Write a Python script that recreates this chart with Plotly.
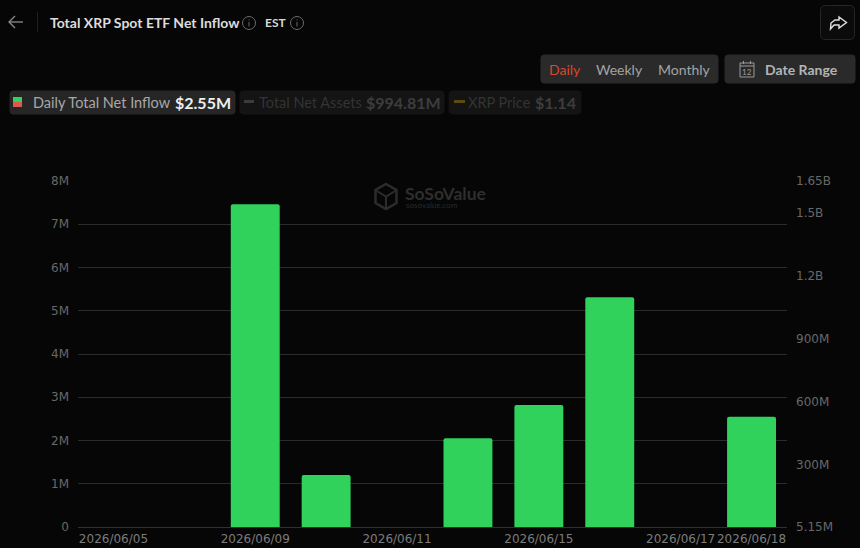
import plotly.graph_objects as go

W, H = 860, 548

# Chart data
dates = ["2026/06/05", "2026/06/08", "2026/06/09", "2026/06/10", "2026/06/11",
         "2026/06/12", "2026/06/15", "2026/06/16", "2026/06/17", "2026/06/18"]
net_inflow = [0, 0, 7.46e6, 1.2e6, 0, 2.05e6, 2.82e6, 5.31e6, 0, 2.55e6]
net_assets_latest = 994.81e6

date_ticks = ["2026/06/05", "2026/06/09", "2026/06/11", "2026/06/15", "2026/06/17", "2026/06/18"]
left_ticks = [0, 1e6, 2e6, 3e6, 4e6, 5e6, 6e6, 7e6, 8e6]
left_labels = ["0", "1M", "2M", "3M", "4M", "5M", "6M", "7M", "8M"]
right_ticks = [5.15e6, 3e8, 6e8, 9e8, 1.2e9, 1.5e9, 1.65e9]
right_labels = ["5.15M", "300M", "600M", "900M", "1.2B", "1.5B", "1.65B"]

BG = "#060606"
GREEN = "#30d25c"
UI = "Lato"
AXIS_FONT = "DejaVu Sans"


def px(x):
    return x / W


def py(y):
    return 1 - y / H


def path(points, close=False):
    d = "M" + " L".join(f"{px(x):.5f},{py(y):.5f}" for x, y in points)
    return d + (" Z" if close else "")


shapes, notes = [], []


def box(x0, y0, x1, y1, fill, line=None, radius=3):
    r, rx, ry = radius, radius / W, radius / H
    d = (f"M{px(x0)+rx:.5f},{py(y0):.5f} L{px(x1)-rx:.5f},{py(y0):.5f} "
         f"Q{px(x1):.5f},{py(y0):.5f} {px(x1):.5f},{py(y0)-ry:.5f} "
         f"L{px(x1):.5f},{py(y1)+ry:.5f} Q{px(x1):.5f},{py(y1):.5f} {px(x1)-rx:.5f},{py(y1):.5f} "
         f"L{px(x0)+rx:.5f},{py(y1):.5f} Q{px(x0):.5f},{py(y1):.5f} {px(x0):.5f},{py(y1)+ry:.5f} "
         f"L{px(x0):.5f},{py(y0)-ry:.5f} Q{px(x0):.5f},{py(y0):.5f} {px(x0)+rx:.5f},{py(y0):.5f} Z")
    shapes.append(dict(type="path", xref="paper", yref="paper", path=d, fillcolor=fill,
                       line=dict(color=line or fill, width=1), layer="below"))


def stroke(points, color, width=1.3, close=False, fill=None):
    shapes.append(dict(type="path", xref="paper", yref="paper", path=path(points, close),
                       line=dict(color=color, width=width),
                       fillcolor=fill or "rgba(0,0,0,0)", layer="above"))


def rect(x0, y0, x1, y1, color):
    shapes.append(dict(type="rect", xref="paper", yref="paper", x0=px(x0), x1=px(x1),
                       y0=py(y0), y1=py(y1), fillcolor=color, line=dict(width=0), layer="above"))


def circle(cx, cy, r, color):
    shapes.append(dict(type="circle", xref="paper", yref="paper", x0=px(cx - r), x1=px(cx + r),
                       y0=py(cy + r), y1=py(cy - r), line=dict(color=color, width=1), layer="above"))


def text(x, y, s, size, color, anchor="left", bold=False, family=UI):
    notes.append(dict(xref="paper", yref="paper", x=px(x), y=py(y), text=f"<b>{s}</b>" if bold else s,
                      showarrow=False, xanchor=anchor, yanchor="middle", borderpad=0,
                      font=dict(family=family, size=size, color=color)))


def info(cx, cy):
    circle(cx, cy, 6.5, "#6a6a6a")
    stroke([(cx, cy - 1), (cx, cy + 3.5)], "#6a6a6a", 1)
    rect(cx - 0.5, cy - 3.5, cx + 0.5, cy - 2.5, "#6a6a6a")


# Page header
stroke([(9, 22), (23, 22)], "#8c8c8c")
stroke([(15, 16), (9, 22), (15, 28)], "#8c8c8c")
stroke([(37.5, 12), (37.5, 32)], "#222222", 1)
text(49, 22, "Total XRP Spot ETF Net Inflow", 14, "#dcdcdc", bold=True)
info(249, 23)
text(264, 22, "EST", 12, "#d8d8d8", bold=True)
info(297, 23)

# Share button
box(820.5, 5.5, 854.5, 39.5, "#0b0b0b", "#262626", 5)
stroke([(839, 17), (846.5, 22.5), (839, 28), (839, 25), (834, 25), (830.5, 29),
        (831, 23), (835, 20), (839, 20)], "#e0e0e0", 1.4, close=True)

# Interval switch and date range
box(541, 55, 718, 83, "#2a2a2a")
text(548, 69, "Daily", 14, "#d9472f")
text(595, 69, "Weekly", 14, "#a3a3a3")
text(657, 69, "Monthly", 14, "#a3a3a3")
box(725, 55, 855, 83, "#2a2a2a")
stroke([(740, 63), (754, 63), (754, 77), (740, 77)], "#9a9a9a", 1, close=True)
stroke([(740, 66), (754, 66)], "#9a9a9a", 1)
stroke([(743.5, 61), (743.5, 64)], "#9a9a9a", 1)
stroke([(750.5, 61), (750.5, 64)], "#9a9a9a", 1)
text(747, 72, "12", 8, "#9a9a9a", anchor="center")
text(764, 69, "Date Range", 14, "#b4b4b4", bold=True)

# Series selector chips
box(10, 91, 235, 114, "#262626")
rect(13, 97, 22, 102, GREEN)
rect(13, 102, 22, 107, "#e0584c")
text(32, 102, "Daily Total Net Inflow", 14.5, "#a8a8a8")
text(174, 102, "$2.55M", 16, "#eeeeee", bold=True)

box(240, 91, 444, 114, "#141414")
rect(244, 100, 254, 103, "#3c3c3c")
text(258, 102, "Total Net Assets", 14.5, "#333333")
text(365, 102, "$994.81M", 16, "#3d3d3d", bold=True)

box(449, 91, 581, 114, "#141414")
rect(454, 100, 465, 103, "#5c4a12")
text(467, 102, "XRP Price", 14.5, "#333333")
text(534, 102, "$1.14", 16, "#3d3d3d", bold=True)

# Watermark
hexagon = [(386, 184), (396.5, 190), (396.5, 203), (386, 209), (375.5, 203), (375.5, 190)]
stroke(hexagon, "#2c2c2c", 2.5, close=True)
stroke([(376, 190.5), (386, 196.5), (396, 190.5)], "#2c2c2c", 2)
stroke([(386, 196.5), (386, 208)], "#2c2c2c", 2)
text(404, 193.5, "SoSoValue", 17.5, "#2e2e2e", bold=True)
text(405, 205, "sosovalue.com", 8, "#2a2a2a")

fig = go.Figure()
fig.add_bar(x=dates, y=net_inflow, marker=dict(color=GREEN, line=dict(width=0)),
            width=0.69, name="Daily Total Net Inflow", showlegend=False)
# One-point line keeps the right-hand asset axis active while the series stays switched off
fig.add_scatter(x=dates[-1:], y=[net_assets_latest], yaxis="y2", mode="lines",
                line=dict(color="rgba(0,0,0,0)"), name="Total Net Assets", showlegend=False)

fig.update_layout(
    width=W, height=H, margin=dict(l=0, r=0, t=0, b=0), autosize=False,
    paper_bgcolor=BG, plot_bgcolor=BG, showlegend=False, barcornerradius=2,
    shapes=shapes, annotations=notes,
    xaxis=dict(domain=[78 / W, 787 / W], type="category", categoryorder="array", categoryarray=dates,
               range=[-0.5, 9.5], tickmode="array", tickvals=date_ticks, ticktext=date_ticks,
               automargin=False, showgrid=False, zeroline=False, showline=False, ticks="",
               ticklabelstandoff=3, tickangle=0,
               tickfont=dict(family=AXIS_FONT, size=12, color="#7c7c7c")),
    yaxis=dict(domain=[(H - 527) / H, (H - 181) / H], range=[0, 8e6], tickmode="array",
               tickvals=left_ticks, ticktext=left_labels, gridcolor="#2b2b2b", gridwidth=1,
               automargin=False, zeroline=True, zerolinecolor="#303030", zerolinewidth=1,
               showline=False, ticks="", ticklabelstandoff=8,
               tickfont=dict(family=AXIS_FONT, size=12, color="#686868")),
    yaxis2=dict(overlaying="y", side="right", anchor="x", range=[5.15e6, 1.65e9], tickmode="array",
                tickvals=right_ticks, ticktext=right_labels, automargin=False, showgrid=False,
                zeroline=False, showline=False, ticks="", ticklabelstandoff=8,
                tickfont=dict(family=AXIS_FONT, size=12, color="#686868")),
)

fig.write_html("out.html", config=dict(displayModeBar=False))
